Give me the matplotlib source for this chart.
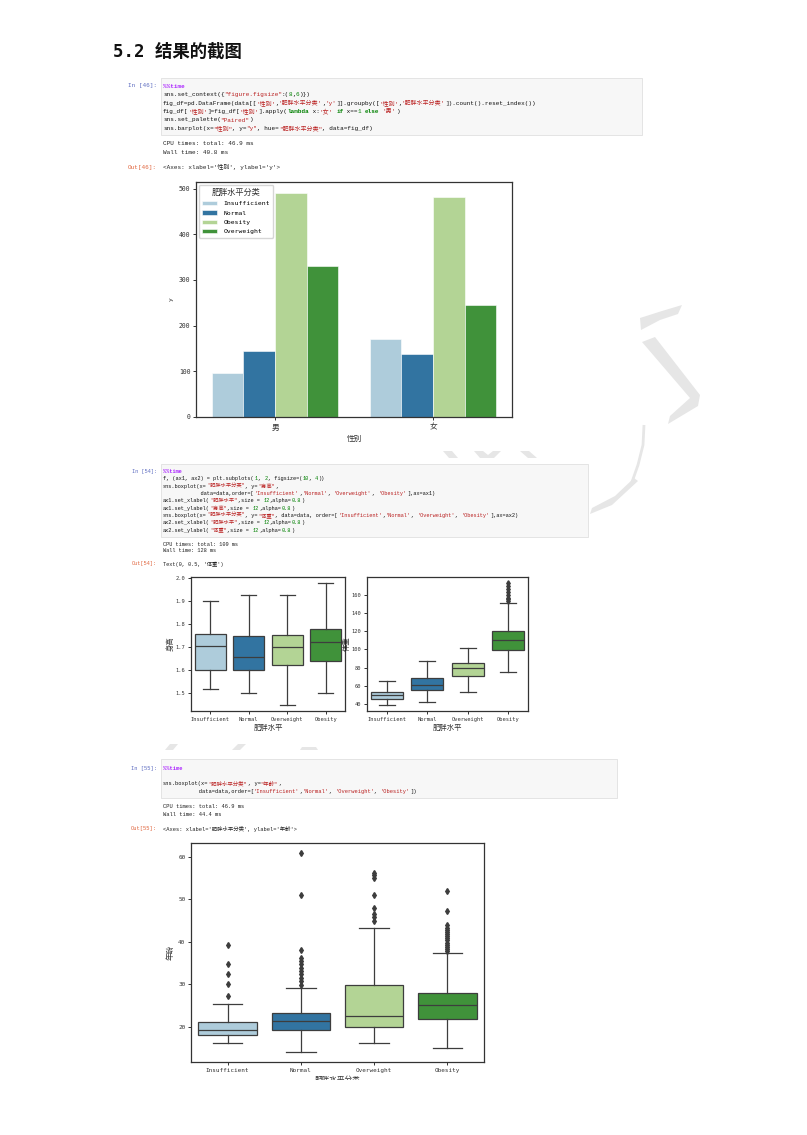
import re
import colorsys
import matplotlib
matplotlib.use("Agg")
import matplotlib.pyplot as plt
from matplotlib.patches import Rectangle, Polygon
from matplotlib.colors import to_rgb
import numpy as np

# ---------------- data ----------------
sexes = ['男', '女']
bar_levels = ['Insufficient', 'Normal', 'Obesity', 'Overweight']
counts_male = [97, 144, 490, 331]
counts_female = [171, 139, 481, 246]

box_order = ['Insufficient', 'Normal', 'Overweight', 'Obesity']

height_whislo = [1.52, 1.50, 1.45, 1.50]
height_q1 = [1.60, 1.60, 1.625, 1.64]
height_med = [1.706, 1.66, 1.70, 1.723]
height_q3 = [1.76, 1.75, 1.755, 1.78]
height_whishi = [1.90, 1.93, 1.93, 1.98]

weight_whislo = [39, 42, 53, 75]
weight_q1 = [45, 55.4, 70.5, 99.4]
weight_med = [50.3, 61.3, 79.3, 110.5]
weight_q3 = [53.6, 68.3, 84.8, 120]
weight_whishi = [65.3, 87.3, 102, 151.6]
weight_fliers = [[], [], [], [173, 170, 166, 163, 160, 157, 155, 153]]

age_whislo = [16.1, 14.0, 16.1, 15.0]
age_q1 = [18.0, 19.1, 20.0, 21.7]
age_med = [19.3, 21.3, 22.6, 25.2]
age_q3 = [21.0, 23.1, 29.8, 28.0]
age_whishi = [25.4, 29.1, 43.3, 37.4]
age_fliers = [
    [27.1, 30.0, 32.5, 34.7, 39.1],
    [29.9, 30.7, 31.5, 32.3, 33.1, 33.9, 34.7, 35.4, 36.1, 38.0, 50.9, 60.9],
    [44.8, 45.7, 46.5, 48.0, 50.9, 55.0, 55.6, 56.2],
    [37.8, 38.3, 38.8, 39.3, 39.8, 40.3, 40.8, 41.3, 41.8, 42.3, 42.8, 43.3, 43.9, 47.2, 52.0],
]

cell1_code = [
    '%%time',
    'sns.set_context({"figure.figsize":(8,6)})',
    "fig_df=pd.DataFrame(data[['性别','肥胖水平分类','y']].groupby(['性别','肥胖水平分类']).count().reset_index())",
    "fig_df['性别']=fig_df['性别'].apply(lambda x:'女' if x==1 else '男')",
    'sns.set_palette("Paired")',
    'sns.barplot(x="性别", y="y", hue="肥胖水平分类", data=fig_df)',
]
cell1_out = ['CPU times: total: 46.9 ms', 'Wall time: 40.8 ms']
cell1_result = "<Axes: xlabel='性别', ylabel='y'>"

cell2_code = [
    '%%time',
    'f, (ax1, ax2) = plt.subplots(1, 2, figsize=(10, 4))',
    'sns.boxplot(x="肥胖水平分类", y="身高",',
    "            data=data,order=['Insufficient','Normal', 'Overweight', 'Obesity'],ax=ax1)",
    'ax1.set_xlabel("肥胖水平",size = 12,alpha=0.8)',
    'ax1.set_ylabel("身高",size = 12,alpha=0.8)',
    "sns.boxplot(x=\"肥胖水平分类\", y=\"体重\", data=data, order=['Insufficient','Normal', 'Overweight', 'Obesity'],ax=ax2)",
    'ax2.set_xlabel("肥胖水平",size = 12,alpha=0.8)',
    'ax2.set_ylabel("体重",size = 12,alpha=0.8)',
]
cell2_out = ['CPU times: total: 109 ms', 'Wall time: 128 ms']
cell2_result = "Text(0, 0.5, '体重')"

cell3_code = [
    '%%time',
    '',
    'sns.boxplot(x="肥胖水平分类", y="年龄",',
    "           data=data,order=['Insufficient','Normal', 'Overweight', 'Obesity'])",
]
cell3_out = ['CPU times: total: 46.9 ms', 'Wall time: 44.4 ms']
cell3_result = "<Axes: xlabel='肥胖水平分类', ylabel='年龄'>"

# ---------------- styling ----------------
W, H = 807, 1135
CJK = 'Noto Sans CJK SC'
CODE_FONT = ['Liberation Mono', CJK]
CHART_FONT = ['DejaVu Sans Mono', CJK]
SANS = ['DejaVu Sans', CJK]
plt.rcParams['font.family'] = SANS

def desat(c, p=0.75):
    h, l, s = colorsys.rgb_to_hls(*to_rgb(c))
    return colorsys.hls_to_rgb(h, l, s * p)

paired = ['#a6cee3', '#1f78b4', '#b2df8a', '#33a02c']
pal = [desat(c) for c in paired]
LC = '#3d3d3d'
SPINE = '#333333'

fig = plt.figure(figsize=(W / 100, H / 100), dpi=100)

# overlay axes in pixel coordinates
ov = fig.add_axes([0, 0, 1, 1], zorder=0)
ov.set_xlim(0, W)
ov.set_ylim(H, 0)
ov.axis('off')

# watermark (decorative)
wm_col = '#e6e6e6'
wm_polys = [
    [(640, 318), (662, 311), (682, 305), (678, 314), (660, 320), (641, 330)],
    [(642, 342), (655, 337), (700, 395), (698, 406), (668, 424), (670, 416), (690, 398)],
    [(634, 478), (638, 481), (612, 505), (590, 514), (592, 508), (615, 496)],
    [(443, 451), (452, 451), (458, 458), (449, 458)],
    [(474, 451), (483, 451), (488, 455), (493, 451), (501, 451), (494, 458), (480, 458)],
    [(520, 451), (529, 451), (537, 458), (528, 458)],
    [(165, 750), (170, 744), (178, 744), (173, 750)],
    [(232, 750), (238, 744), (246, 744), (240, 750)],
    [(300, 750), (318, 750), (316, 747), (302, 747)],
]
for p in wm_polys:
    ov.add_patch(Polygon(p, closed=True, facecolor=wm_col, edgecolor='none', zorder=0))
ov.plot([644, 643, 638, 632], [425, 445, 465, 482], color=wm_col, lw=2, zorder=0,
        solid_capstyle='butt')

# title
ov.text(113, 52, '5.2 结果的截图', fontsize=12.5, fontweight='bold',
        family=['DejaVu Sans Mono', CJK], va='center', ha='left', color='#111111')

tok_re = re.compile(r'(?P<magic>%%time)|(?P<str>"[^"]*"|\'[^\']*\')|'
                    r'(?P<kw>\b(?:lambda|if|else)\b)|(?P<num>(?<![\w.])\d+(?:\.\d+)?)')

def tokenize(line):
    segs = []
    pos = 0
    for m in tok_re.finditer(line):
        if m.start() > pos:
            segs.append((line[pos:m.start()], '#111111', 'normal'))
        kind = m.lastgroup
        if kind == 'magic':
            segs.append((m.group(), '#AA22FF', 'bold'))
        elif kind == 'str':
            segs.append((m.group(), '#BA2121', 'normal'))
        elif kind == 'kw':
            segs.append((m.group(), '#008000', 'bold'))
        else:
            segs.append((m.group(), '#008000', 'normal'))
        pos = m.end()
    if pos < len(line):
        segs.append((line[pos:], '#111111', 'normal'))
    return segs

def text_width(s, size):
    em = size * 100 / 72
    return sum(em * (1.0 if ord(c) >= 0x2E80 else 0.6) for c in s)

def code_line(x, y, line, size, plain=False):
    segs = [(line, '#222222', 'normal')] if plain else tokenize(line)
    for s, col, wt in segs:
        ov.text(x, y, s, fontsize=size, color=col, fontweight=wt, family=CODE_FONT,
                va='center', ha='left', zorder=3)
        x += text_width(s, size)

def cell(box, label, ylabel, lines, y0, dy, size, out_lines, out_y, out_dy,
         result_label, result, result_y):
    x0, y_top, x1, y_bot = box
    ov.add_patch(Rectangle((x0, y_top), x1 - x0, y_bot - y_top, facecolor='#f7f7f7',
                           edgecolor='#e0e0e0', lw=0.6, zorder=2))
    ov.text(157, ylabel, label, fontsize=size, color='#5c6bc0', family=CODE_FONT,
            va='center', ha='right', zorder=3)
    for i, ln in enumerate(lines):
        if ln:
            code_line(163, y0 + i * dy, ln, size)
    for i, ln in enumerate(out_lines):
        code_line(163, out_y + i * out_dy, ln, size, plain=True)
    ov.text(157, result_y, result_label, fontsize=size, color='#e0643c', family=CODE_FONT,
            va='center', ha='right', zorder=3)
    code_line(163, result_y, result, size, plain=True)

cell((161, 78, 642, 135), 'In [46]:', 86, cell1_code, 86, 8.5, 4.3,
     cell1_out, 143.5, 8.8, 'Out[46]:', cell1_result, 167.5)
cell((161, 464, 588, 537), 'In [54]:', 471.5, cell2_code, 471.5, 7.33, 3.8,
     cell2_out, 544, 7.0, 'Out[54]:', cell2_result, 564)
cell((161, 759, 617, 798), 'In [55]:', 768.5, cell3_code, 768.5, 7.7, 3.9,
     cell3_out, 806.5, 7.8, 'Out[55]:', cell3_result, 828.5)


def px_axes(x0, y0, x1, y1):
    return fig.add_axes([x0 / W, 1 - y1 / H, (x1 - x0) / W, (y1 - y0) / H], zorder=5)

def style_axes(ax, tsize):
    for s in ax.spines.values():
        s.set_color(SPINE)
        s.set_linewidth(0.9)
    ax.tick_params(direction='out', length=2.5, width=0.7, color=SPINE,
                   labelsize=tsize, labelcolor='#333333', pad=1.5)
    for lab in ax.get_xticklabels() + ax.get_yticklabels():
        lab.set_family(CHART_FONT)

# ---------------- bar chart ----------------
axb = px_axes(196, 182, 512, 417)
xs = np.arange(len(sexes))
bw = 0.8 / len(bar_levels)
for i, lev in enumerate(bar_levels):
    vals = [counts_male[i], counts_female[i]]
    axb.bar(xs - 0.4 + bw * (i + 0.5), vals, width=bw, color=pal[i], label=lev,
            edgecolor='white', linewidth=0.4)
axb.set_xlim(-0.5, 1.5)
axb.set_xticks(xs)
axb.set_xticklabels(sexes)
axb.set_xlabel('性别', fontsize=5.5, family=SANS, color='#333333', labelpad=1.5)
axb.set_ylabel('y', fontsize=4.5, family=CHART_FONT, color='#333333', labelpad=4)
style_axes(axb, 4.7)
for lab in axb.get_xticklabels():
    lab.set_fontsize(5.5)
leg = axb.legend(title='肥胖水平分类', loc='upper left', title_fontsize=5.9,
                 prop={'family': CHART_FONT, 'size': 4.6}, handlelength=2.4,
                 handleheight=0.65, handletextpad=0.9, labelspacing=0.62, borderpad=0.5,
                 frameon=True, fancybox=True, edgecolor='#cccccc', borderaxespad=0.45)
leg.get_title().set_family(SANS)
leg.get_title().set_color('#333333')


def draw_box(ax, whislo, q1, med, q3, whishi, fliers=None, msize=2.6):
    stats = []
    for i, lab in enumerate(box_order):
        stats.append(dict(whislo=whislo[i], q1=q1[i], med=med[i], q3=q3[i],
                          whishi=whishi[i], fliers=(fliers[i] if fliers else []),
                          label=lab))
    bp = ax.bxp(stats, positions=range(len(box_order)), widths=0.8, patch_artist=True,
                showfliers=True,
                boxprops=dict(edgecolor=LC, linewidth=0.9),
                medianprops=dict(color=LC, linewidth=0.9),
                whiskerprops=dict(color=LC, linewidth=0.9),
                capprops=dict(color=LC, linewidth=0.9),
                flierprops=dict(marker='d', markerfacecolor=LC, markeredgecolor=LC,
                                markersize=msize, linestyle='none'))
    for patch, c in zip(bp['boxes'], pal):
        patch.set_facecolor(c)
    ax.set_xlim(-0.5, len(box_order) - 0.5)
    return bp

# ---------------- height / weight ----------------
ax1 = px_axes(191, 577, 345, 711)
draw_box(ax1, height_whislo, height_q1, height_med, height_q3, height_whishi)
ax1.set_xlabel('肥胖水平', fontsize=5.3, alpha=0.8, family=SANS, labelpad=1.5)
ax1.set_ylabel('身高', fontsize=5.3, alpha=0.8, family=SANS, labelpad=1.5)
style_axes(ax1, 3.9)

ax2 = px_axes(367, 577, 528, 711)
draw_box(ax2, weight_whislo, weight_q1, weight_med, weight_q3, weight_whishi,
         weight_fliers, msize=2.8)
ax2.set_xlabel('肥胖水平', fontsize=5.3, alpha=0.8, family=SANS, labelpad=1.5)
ax2.set_ylabel('体重', fontsize=5.3, alpha=0.8, family=SANS, labelpad=1.5)
style_axes(ax2, 3.9)

# ---------------- age ----------------
ax3 = px_axes(191, 843, 484, 1062)
draw_box(ax3, age_whislo, age_q1, age_med, age_q3, age_whishi, age_fliers, msize=3.0)
ax3.set_xlabel('肥胖水平分类', fontsize=5.5, family=SANS, color='#333333', labelpad=2)
ax3.set_ylabel('年龄', fontsize=5.5, family=SANS, color='#333333', labelpad=3)
style_axes(ax3, 4.3)

# page crop at bottom
fig.add_artist(Rectangle((0, 0), 1, 1 - 1079.5 / H, transform=fig.transFigure,
                         facecolor='white', edgecolor='none', zorder=20))

fig.savefig('out.png', dpi=100, facecolor='white')
